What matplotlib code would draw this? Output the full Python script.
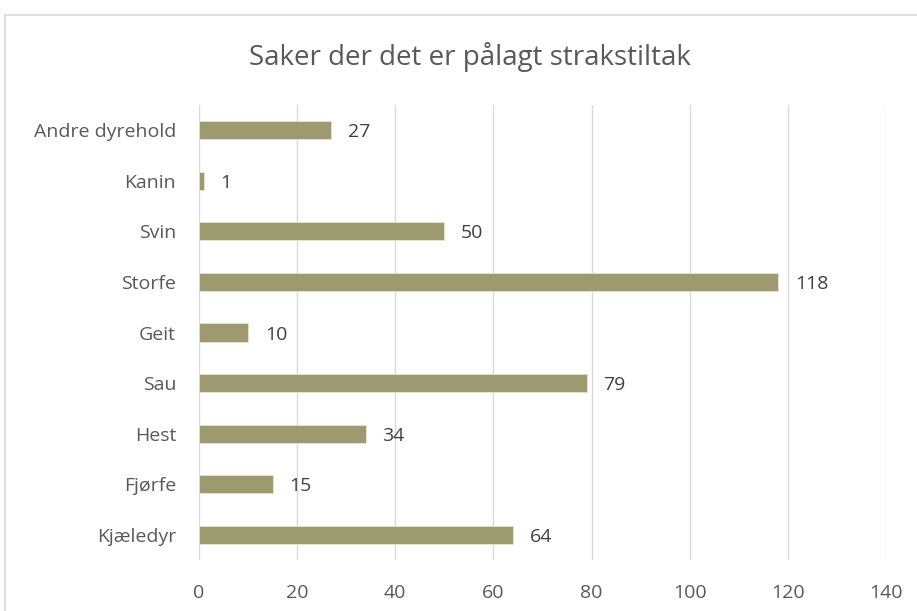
import matplotlib.pyplot as plt
from matplotlib.lines import Line2D

categories = ["Kjæledyr", "Fjørfe", "Hest", "Sau", "Geit", "Storfe", "Svin", "Kanin", "Andre dyrehold"]
values = [64, 15, 34, 79, 10, 118, 50, 1, 27]
x_ticks = [0, 20, 40, 60, 80, 100, 120, 140]

plt.rcParams['font.family'] = ['Open Sans', 'DejaVu Sans']

fig = plt.figure(figsize=(9.17, 6.11), dpi=100)
ax = fig.add_axes([199 / 917, 1 - 560 / 611, 687 / 917, 455 / 611])

# outer chart border (only top/left visible in the crop)
fig.add_artist(Line2D([4.5 / 917, 4.5 / 917], [0, 1 - 14.5 / 611], color='#d9d9d9', lw=1.2))
fig.add_artist(Line2D([4.5 / 917, 1], [1 - 14.5 / 611, 1 - 14.5 / 611], color='#d9d9d9', lw=1.2))

pos = list(range(len(categories)))
ax.barh(pos, values, height=0.36, color='#9e9a6f', edgecolor='#e6e4d6', linewidth=0.6, zorder=3)
for p, v in zip(pos, values):
    ax.annotate(str(v), (v, p), xytext=(12, -1.5), textcoords='offset points',
                va='center', ha='left', fontsize=14, color='#404040')

ax.set_xlim(0, 140)
ax.set_ylim(-0.5, len(categories) - 0.5)
ax.set_xticks(x_ticks)
ax.set_yticks(pos)
ax.set_yticklabels(categories)
ax.tick_params(axis='both', length=0, labelsize=14, labelcolor='#595959')
ax.tick_params(axis='x', pad=17)
ax.tick_params(axis='y', pad=16.5)
ax.grid(axis='x', color='#d9d9d9', linewidth=1, zorder=0)
for s in ax.spines.values():
    s.set_visible(False)

fig.text(470 / 917, 1 - 57 / 611, "Saker der det er pålagt strakstiltak", ha='center', va='center',
         fontsize=20, color='#595959')

fig.savefig('out.png', dpi=100)
